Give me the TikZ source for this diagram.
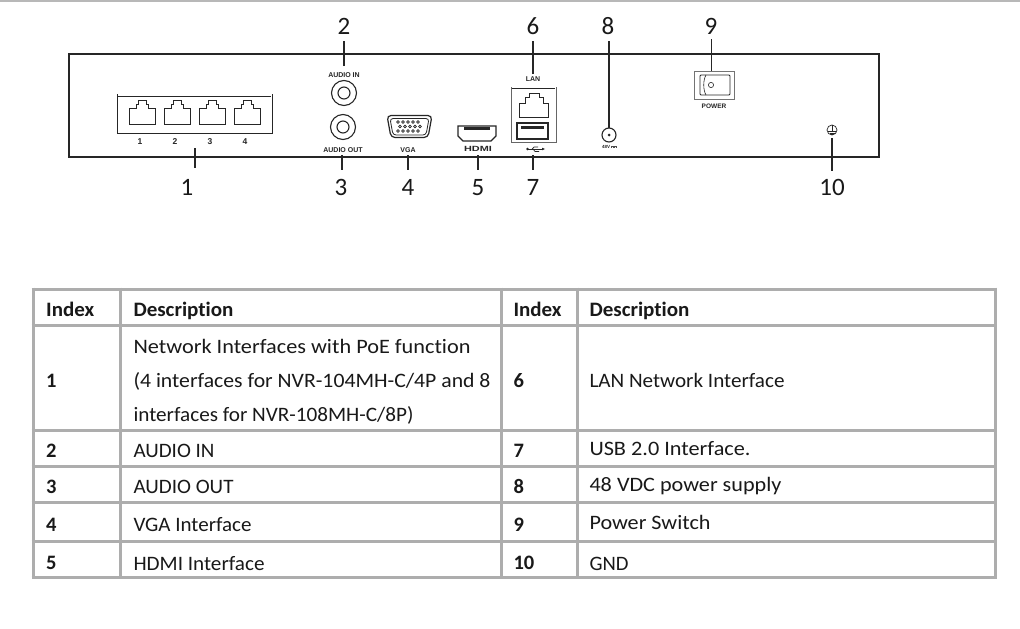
\documentclass[tikz,border=0pt]{standalone}
\usepackage{fontspec}
\setmainfont[Ligatures=CommonOff]{Carlito}
\newfontfamily\tinyfont{Liberation Sans}
\newcommand{\rjport}[2]{%
  \draw[port] (#1,#2+24) -- (#1,#2+8) -- (#1+7,#2+8) -- (#1+7,#2+4) -- (#1+9,#2+4) -- (#1+9,#2) -- (#1+17,#2) -- (#1+17,#2+4) -- (#1+19,#2+4) -- (#1+19,#2+8) -- (#1+26,#2+8) -- (#1+26,#2+24) -- cycle;}
\newcommand{\fitw}[2]{\resizebox{#1pt}{\height}{#2}}
\tikzset{
  x=1pt,y=-1pt,
  port/.style={draw=black!85,line width=0.9pt,line join=miter},
  chassis/.style={draw=black!85,line width=1.4pt},
  lead/.style={draw=black!85,line width=1.2pt},
  idx/.style={font=\fontsize{25}{25}\selectfont,inner sep=0pt,anchor=base,text=black!90},
  tiny/.style={font=\tinyfont\bfseries\fontsize{7}{8}\selectfont,inner sep=0pt,text=black!85},
  grid/.style={draw=black!32,line width=3pt},
  cellb/.style={font=\bfseries\fontsize{20.5}{21}\selectfont,inner sep=0pt,anchor=base west,text=black!90},
  cell/.style={font=\fontsize{20.5}{21}\selectfont,inner sep=0pt,anchor=base west,text=black!90},
}
\begin{document}
\begin{tikzpicture}
\useasboundingbox (0,0) rectangle (1020,629);
\fill[white] (0,0) rectangle (1020,629);
\draw[black!28,line width=1.5pt] (0,1) -- (1020,1);
% chassis
\draw[chassis] (69,54) rectangle (879,157);
% PoE block
\draw[port,line width=1pt] (117,94) -- (117,133) -- (272,133) -- (272,94);
\draw[port,line width=1pt] (118,96) -- (271,96);
\foreach \px in {129,164,199,234} {\rjport{\px}{100}}
\foreach \n/\px in {1/140,2/175,3/210,4/245}
  \node[tiny,font=\tinyfont\bfseries\fontsize{8.5}{9}\selectfont] (n\n) at (\px,142) {\n};
% audio
\node[tiny] (audin) at (344,75) {AUDIO IN};
\node[tiny] (audout) at (343,150) {AUDIO OUT};
\draw[port,line width=1.1pt] (344,93) circle (12.5) (344,93) circle (6);
\draw[port,line width=1.1pt] (343,127) circle (12.5) (343,127) circle (6);
% VGA
\draw[port,line width=1.2pt,rounded corners=4pt] (387,115.5) -- (432,115.5) -- (428,137.5) -- (391,137.5) -- cycle;
\draw[port,line width=.8pt,rounded corners=3pt] (390,118.5) -- (429,118.5) -- (426,135) -- (393,135) -- cycle;
\foreach \vx in {398,403,408,413,418} {
  \draw[black!85,line width=.7pt] (\vx,122) circle (1.3);
  \draw[black!85,line width=.7pt] (\vx+2,126.5) circle (1.3);
  \draw[black!85,line width=.7pt] (\vx,131) circle (1.3);
}
\node[tiny] (vga) at (408,150) {VGA};
% HDMI
\draw[port,line width=1.1pt] (458,126) -- (496,126) -- (496,136) -- (491,141) -- (463,141) -- (458,136) -- cycle;
\fill[black!85] (464,127) rectangle (490,130);
\node[tiny,font=\tinyfont\bfseries\fontsize{7.5}{8}\selectfont] (hdmi) at (478,149) {\scalebox{1.45}[1]{HDMI}};
% LAN / USB block
\node[tiny] (lan) at (533,79) {LAN};
\draw[port,line width=.8pt,draw=black!60] (511,87) -- (511,142) -- (556,142) -- (556,87);
\draw[port,line width=.9pt] (512,88) -- (555,88);
\draw[port] (519,117) -- (519,103) -- (525,103) -- (525,97) -- (529,97) -- (529,93) -- (539,93) -- (539,97) -- (543,97) -- (543,103) -- (548,103) -- (548,117) -- cycle;
\draw[port,line width=1.1pt] (517,123) rectangle (548,139);
\fill[black!85] (521,126) rectangle (544,129);
% usb symbol
\draw[port,line width=.8pt] (528,149) -- (542,149);
\fill[black!85] (527.5,149) circle (1.4);
\draw[port,line width=.7pt] (532,149) -- (534,147) -- (538,147) (533,149) -- (535,151.5) -- (539,151.5);
\fill[black!85] (542,147.7) -- (545,149) -- (542,150.3) -- cycle;
% DC
\draw[port,line width=1.1pt] (609,135) circle (7);
\fill[black!85] (609,135) circle (1.5);
\node[tiny,font=\tinyfont\bfseries\fontsize{4.5}{5}\selectfont] (dcv) at (606,147) {48V};
\draw[black!70,line width=.4pt] (611,146.2) -- (617,146.2);
\draw[black!70,line width=.4pt,dash pattern=on 1pt off .5pt] (611,147.6) -- (617,147.6);
% switch
\draw[draw=black!55,line width=1pt] (694,71) rectangle (734,99);
\draw[port,line width=.9pt,rounded corners=1pt] (700,75) rectangle (730,95);
\draw[port,line width=.6pt] (706,75) .. controls (703,80) and (703,90) .. (706,95);
\draw[port,line width=.6pt] (711,85) circle (2.6);
\node[tiny,font=\tinyfont\bfseries\fontsize{6.5}{7}\selectfont] (pwr) at (714,106) {POWER};
% ground
\draw[port,line width=.7pt] (832,130) circle (5);
\draw[port,line width=.7pt] (832,125) -- (832,132) (828,131.5) -- (836,131.5) (829.5,133) -- (834.5,133) (831,134.5) -- (833,134.5);
% leader anchors
\coordinate (e1) at (195,148); \coordinate (f1) at (195,168);
\coordinate (e2) at (344,66);  \coordinate (f2) at (344,41);
\coordinate (e3) at (342,155); \coordinate (f3) at (342,170);
\coordinate (e4) at (408,155); \coordinate (f4) at (408,170);
\coordinate (e5) at (478,155); \coordinate (f5) at (478,170);
\coordinate (e6) at (533,74);  \coordinate (f6) at (533,41);
\coordinate (e7) at (533,155); \coordinate (f7) at (533,170);
\coordinate (e8) at (609,128); \coordinate (f8) at (609,41);
\coordinate (e9) at (711.5,71);\coordinate (f9) at (711.5,39);
\coordinate (e10) at (832,138);\coordinate (f10) at (832,171);
\foreach \i in {1,...,10} {\draw[lead] (e\i) -- (f\i);}
% callout numbers
\node[idx] (c1) at (187,195) {1};
\node[idx] (c2) at (344,34) {2};
\node[idx] (c3) at (341,195) {3};
\node[idx] (c4) at (408,195) {4};
\node[idx] (c5) at (478,195) {5};
\node[idx] (c6) at (533,34) {6};
\node[idx] (c7) at (533,195) {7};
\node[idx] (c8) at (608,34) {8};
\node[idx] (c9) at (711,34) {9};
\node[idx] (c10) at (832,195) {10};
% table grid
\foreach \gy in {289,325,430,466,502,541.5,577.5} {\draw[grid] (31.5,\gy) -- (996.5,\gy);}
\foreach \gx in {33,120,501,577,995} {\draw[grid] (\gx,287.5) -- (\gx,579);}
% table text left
\node[cellb] (h1) at (46,316) {\fitw{48}{Index}};
\node[cellb] (h2) at (133.3,316) {\fitw{100}{Description}};
\node[cellb] (h3) at (513.3,316) {\fitw{48}{Index}};
\node[cellb] (h4) at (589.3,316) {\fitw{100}{Description}};
\node[cell] (t1a) at (133.3,353) {\fitw{337}{Network Interfaces with PoE function}};
\node[cell] (t1b) at (133.3,387) {\fitw{357}{(4 interfaces for NVR-104MH-C/4P and 8}};
\node[cell] (t1c) at (133.3,421) {\fitw{280}{interfaces for NVR-108MH-C/8P)}};
\node[cellb] (i1) at (46,387) {1};
\node[cellb] (i2) at (46,457) {2};
\node[cellb] (i3) at (46,493.3) {3};
\node[cellb] (i4) at (46,531.7) {4};
\node[cellb] (i5) at (46,569.3) {5};
\node[cell] (t2) at (133.3,457) {\fitw{81}{AUDIO IN}};
\node[cell] (t3) at (133.3,493) {\fitw{100}{AUDIO OUT}};
\node[cell] (t4) at (133.3,531) {\fitw{118}{VGA Interface}};
\node[cell] (t5) at (133.3,570) {\fitw{131}{HDMI Interface}};
\node[cellb] (i6) at (513.3,387) {6};
\node[cellb] (i7) at (513.3,457) {7};
\node[cellb] (i8) at (513.3,493.3) {8};
\node[cellb] (i9) at (513.3,531.7) {9};
\node[cellb] (i10) at (513.3,569.3) {10};
\node[cell] (t6) at (589.3,387) {\fitw{195}{LAN Network Interface}};
\node[cell] (t7) at (589.3,455) {\fitw{161}{USB 2.0 Interface.}};
\node[cell] (t8) at (589.3,491) {\fitw{192}{48 VDC power supply}};
\node[cell] (t9) at (589.3,529) {\fitw{121}{Power Switch}};
\node[cell] (t10) at (589.3,570) {\fitw{39}{GND}};
\end{tikzpicture}
\end{document}
